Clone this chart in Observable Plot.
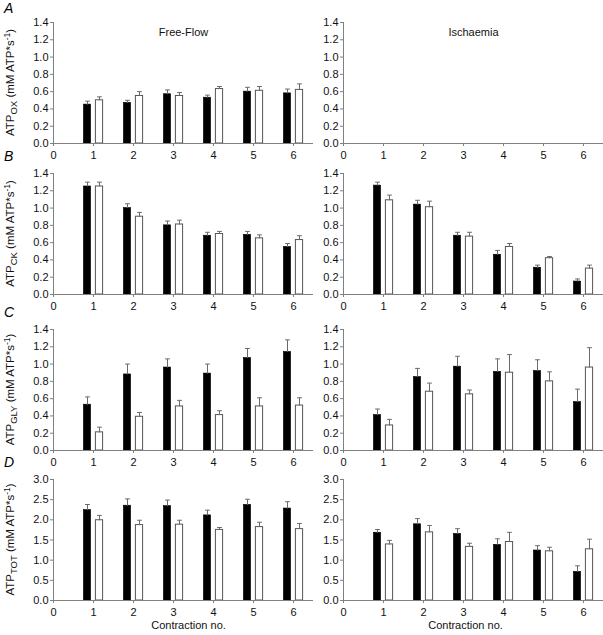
<!DOCTYPE html>
<html>
<head>
<meta charset="utf-8">
<script src="https://cdn.jsdelivr.net/npm/d3@7"></script>
<script src="https://cdn.jsdelivr.net/npm/@observablehq/plot@0.6"></script>
<style>
  html, body { margin: 0; padding: 0; background: #fff; }
  #chart { position: relative; width: 603px; height: 635px; font-family: "Liberation Sans", Arial, sans-serif; }
  #chart svg { position: absolute; overflow: visible; }
  .letter { position: absolute; font-style: italic; font-size: 14px; }
</style>
</head>
<body>
<div id="chart"></div>
<script>
// ---- data ----
const contraction = [1, 2, 3, 4, 5, 6];
const xTicks = [0, 1, 2, 3, 4, 5, 6];
const yTicksSmall = [0, 0.2, 0.4, 0.6, 0.8, 1.0, 1.2, 1.4];
const yTicksTot = [0, 0.5, 1.0, 1.5, 2.0, 2.5, 3.0];
const columnTitles = ["Free-Flow", "Ischaemia"];
const panelLetters = ["A", "B", "C", "D"];
const rowSubscripts = ["OX", "CK", "GLY", "TOT"];
const xLabel = "Contraction no.";

// A: ATP_OX
const oxFreeFilled = [0.45, 0.47, 0.57, 0.53, 0.60, 0.58];
const oxFreeFilledErr = [0.04, 0.03, 0.05, 0.03, 0.05, 0.05];
const oxFreeOpen = [0.50, 0.55, 0.55, 0.63, 0.61, 0.62];
const oxFreeOpenErr = [0.04, 0.05, 0.04, 0.03, 0.05, 0.07];
const oxIscFilled = [];
const oxIscFilledErr = [];
const oxIscOpen = [];
const oxIscOpenErr = [];

// B: ATP_CK
const ckFreeFilled = [1.25, 1.00, 0.80, 0.68, 0.69, 0.55];
const ckFreeFilledErr = [0.05, 0.05, 0.05, 0.04, 0.04, 0.04];
const ckFreeOpen = [1.25, 0.90, 0.81, 0.70, 0.65, 0.63];
const ckFreeOpenErr = [0.05, 0.05, 0.05, 0.03, 0.04, 0.05];
const ckIscFilled = [1.26, 1.04, 0.68, 0.46, 0.31, 0.15];
const ckIscFilledErr = [0.04, 0.05, 0.04, 0.05, 0.03, 0.03];
const ckIscOpen = [1.09, 1.01, 0.67, 0.55, 0.42, 0.30];
const ckIscOpenErr = [0.06, 0.07, 0.05, 0.04, 0.02, 0.04];

// C: ATP_GLY
const glyFreeFilled = [0.53, 0.88, 0.96, 0.89, 1.07, 1.14];
const glyFreeFilledErr = [0.09, 0.12, 0.10, 0.11, 0.11, 0.14];
const glyFreeOpen = [0.21, 0.39, 0.51, 0.41, 0.51, 0.52];
const glyFreeOpenErr = [0.06, 0.05, 0.07, 0.05, 0.10, 0.09];
const glyIscFilled = [0.41, 0.85, 0.97, 0.91, 0.92, 0.56];
const glyIscFilledErr = [0.07, 0.10, 0.12, 0.15, 0.13, 0.15];
const glyIscOpen = [0.29, 0.68, 0.65, 0.90, 0.80, 0.96];
const glyIscOpenErr = [0.07, 0.10, 0.05, 0.21, 0.11, 0.23];

// D: ATP_TOT
const totFreeFilled = [2.24, 2.35, 2.34, 2.11, 2.37, 2.28];
const totFreeFilledErr = [0.14, 0.17, 0.15, 0.13, 0.14, 0.17];
const totFreeOpen = [1.99, 1.87, 1.88, 1.75, 1.82, 1.77];
const totFreeOpenErr = [0.12, 0.12, 0.11, 0.06, 0.12, 0.14];
const totIscFilled = [1.68, 1.89, 1.65, 1.38, 1.24, 0.71];
const totIscFilledErr = [0.08, 0.14, 0.13, 0.15, 0.12, 0.15];
const totIscOpen = [1.39, 1.69, 1.33, 1.45, 1.22, 1.27];
const totIscOpenErr = [0.10, 0.17, 0.09, 0.24, 0.10, 0.25];

// ---- layout ----
const rows = [
  { ymax: 1.4, yticks: yTicksSmall, free: [oxFreeFilled, oxFreeFilledErr, oxFreeOpen, oxFreeOpenErr], isc: [oxIscFilled, oxIscFilledErr, oxIscOpen, oxIscOpenErr] },
  { ymax: 1.4, yticks: yTicksSmall, free: [ckFreeFilled, ckFreeFilledErr, ckFreeOpen, ckFreeOpenErr], isc: [ckIscFilled, ckIscFilledErr, ckIscOpen, ckIscOpenErr] },
  { ymax: 1.4, yticks: yTicksSmall, free: [glyFreeFilled, glyFreeFilledErr, glyFreeOpen, glyFreeOpenErr], isc: [glyIscFilled, glyIscFilledErr, glyIscOpen, glyIscOpenErr] },
  { ymax: 3.0, yticks: yTicksTot, free: [totFreeFilled, totFreeFilledErr, totFreeOpen, totFreeOpenErr], isc: [totIscFilled, totIscFilledErr, totIscOpen, totIscOpenErr] }
];
const plotTops = [22, 173, 329, 479];
const plotH = 121;
const mTop = 20, mBottom = 36;
const cols = [
  { left: 0, width: 313, marginLeft: 53, xLabelDx: 5 },
  { left: 300, width: 303, marginLeft: 43, xLabelDx: -8 }
];
const axisGray = "#808080";

const chart = document.getElementById("chart");

function toRecords(vals, errs, offset) {
  return vals.map((v, i) => ({ c: contraction[i], v, e: errs[i], off: offset }));
}

function makePanel(row, ri, ci) {
  const [fv, fe, ov, oe] = ci === 0 ? row.free : row.isc;
  const filled = toRecords(fv, fe, -0.15);
  const open = toRecords(ov, oe, 0.15);
  const both = filled.concat(open);
  const half = 0.09, cap = 0.06;
  const col = cols[ci];
  const marks = [
    Plot.rectY(filled, { x1: d => d.c + d.off - half, x2: d => d.c + d.off + half, y1: 0, y2: "v", fill: "black", stroke: "black", strokeWidth: 0.6 }),
    Plot.rectY(open, { x1: d => d.c + d.off - half, x2: d => d.c + d.off + half, y1: 0, y2: "v", fill: "white", stroke: "#555", strokeWidth: 1 }),
    Plot.link(both, { x1: d => d.c + d.off, x2: d => d.c + d.off, y1: "v", y2: d => d.v + d.e, stroke: "#6a6a6a", strokeWidth: 1 }),
    Plot.link(both, { x1: d => d.c + d.off - cap, x2: d => d.c + d.off + cap, y1: d => d.v + d.e, y2: d => d.v + d.e, stroke: "#6a6a6a", strokeWidth: 1 }),
    Plot.ruleY([0], { stroke: axisGray }),
    Plot.ruleX([0], { stroke: axisGray })
  ];
  if (ri === 0) {
    marks.push(Plot.text([columnTitles[ci]], { frameAnchor: "top", dy: 6, fontSize: 11, fill: "#111" }));
  }
  if (ri === 3) {
    marks.push(Plot.text([xLabel], { frameAnchor: "bottom", dy: 28, dx: col.xLabelDx, fontSize: 11, fill: "#111" }));
  }
  const svg = Plot.plot({
    width: col.width,
    height: mTop + plotH + mBottom,
    marginLeft: col.marginLeft,
    marginRight: 0,
    marginTop: mTop,
    marginBottom: mBottom,
    style: { background: "transparent", fontFamily: "'Liberation Sans', Arial, sans-serif", fontSize: "11px", color: "#111", overflow: "visible" },
    x: { domain: [0, 6.5], ticks: xTicks, tickFormat: d => String(d), tickSize: 3, tickPadding: 5, label: null },
    y: { domain: [0, row.ymax], ticks: row.yticks, tickFormat: d => d.toFixed(1), tickSize: 3, tickPadding: 2, label: null },
    marks
  });
  svg.style.left = col.left + "px";
  svg.style.top = (plotTops[ri] - mTop) + "px";
  // tick lines in gray
  d3.select(svg).selectAll("g[aria-label$='tick'] path, g.tick line").attr("stroke", axisGray);
  // y-axis label with subscript/superscript for left column
  if (ci === 0) {
    const t = d3.select(svg).append("text")
      .attr("transform", `translate(14,${mTop + plotH / 2}) rotate(-90)`)
      .attr("text-anchor", "middle")
      .attr("font-size", 11.5)
      .attr("fill", "#111");
    t.append("tspan").text("ATP");
    t.append("tspan").attr("dy", 3).attr("font-size", 9.5).text(rowSubscripts[ri]);
    t.append("tspan").attr("dy", -3).text(" (mM ATP*s");
    t.append("tspan").attr("dy", -4).attr("font-size", 8.5).text("-1");
    t.append("tspan").attr("dy", 4).text(")");
  }
  chart.appendChild(svg);
}

rows.forEach((row, ri) => {
  makePanel(row, ri, 0);
  makePanel(row, ri, 1);
  const L = document.createElement("div");
  L.className = "letter";
  L.textContent = panelLetters[ri];
  L.style.left = "4px";
  L.style.top = (plotTops[ri] - 22 + (ri === 0 ? 0 : -3)) + "px";
  chart.appendChild(L);
});
</script>
</body>
</html>
